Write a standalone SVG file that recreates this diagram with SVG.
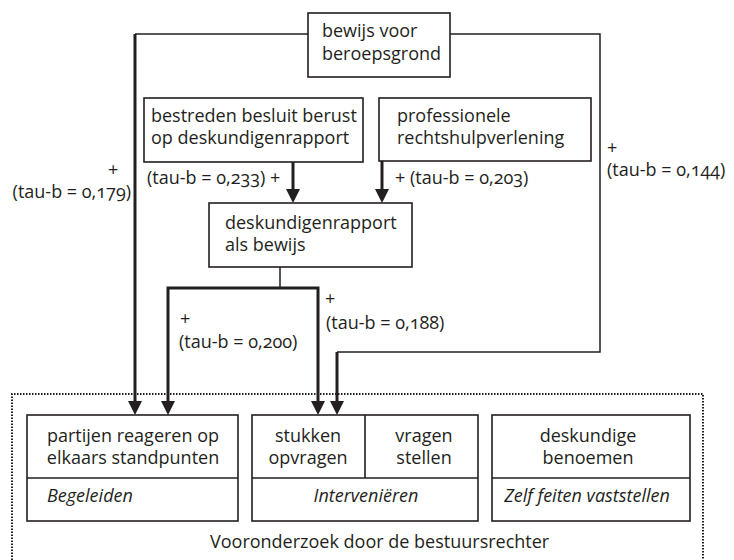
<svg xmlns="http://www.w3.org/2000/svg" width="734" height="560" viewBox="0 0 734 560">
<style>
text{font-family:"Open Sans","Liberation Sans",sans-serif;font-size:18px;fill:#231f20;font-variant-numeric:oldstyle-nums;font-feature-settings:"onum"}
.it{font-style:italic}
.c{text-anchor:middle}
.e{text-anchor:end}
.box{fill:#fff;stroke:#231f20;stroke-width:1.6}
.sep{stroke:#231f20;stroke-width:1.6;fill:none}
.thin{stroke:#231f20;stroke-width:1.5;fill:none}
.thick{stroke:#231f20;stroke-width:3;fill:none}
.dots{stroke:#231f20;stroke-width:2;fill:none;stroke-dasharray:1.5 1.5}
</style>
<defs>
<marker id="ah" viewBox="0 -7 14 14" refX="0" refY="0" markerWidth="14" markerHeight="14" markerUnits="userSpaceOnUse" orient="auto">
<path d="M0,-7 L14,0 L0,7 Z" fill="#231f20"/>
</marker>
</defs>

<g id="container">
<path class="dots" d="M12,575 V394 H703 V575"/>
<text x="210" y="548">Vooronderzoek door de bestuursrechter</text>
</g>

<g id="connectors">
<path class="thin" d="M308,34 H135"/>
<path class="thick" d="M135,34 V401" marker-end="url(#ah)"/>
<path class="thick" d="M293,162 V189" marker-end="url(#ah)"/>
<path class="thick" d="M382,161 V189" marker-end="url(#ah)"/>
<path class="thin" d="M280,267 V288"/>
<path class="thick" d="M280,288 H168 V401" marker-end="url(#ah)"/>
<path class="thick" d="M280,288 H318 V401" marker-end="url(#ah)"/>
<path class="thin" d="M450,34 H600 V352 H337"/>
<path class="thick" d="M337,352 V401" marker-end="url(#ah)"/>
<text x="108" y="176">+</text>
<text class="e" x="131" y="198">(tau-b = 0,179)</text>
<text x="147" y="184">(tau-b = 0,233) +</text>
<text x="395" y="184">+ (tau-b = 0,203)</text>
<text x="607" y="154">+</text>
<text x="607" y="176">(tau-b = 0,144)</text>
<text x="180" y="325">+</text>
<text x="179" y="348">(tau-b = 0,200)</text>
<text x="325" y="305">+</text>
<text x="326" y="329">(tau-b = 0,188)</text>
</g>

<g id="bewijs">
<rect class="box" x="308" y="13" width="142" height="64"/>
<text x="322" y="37">bewijs voor</text>
<text x="322" y="60">beroepsgrond</text>
</g>

<g id="bestreden">
<rect class="box" x="144" y="98" width="219" height="64"/>
<text x="151" y="122">bestreden besluit berust</text>
<text x="151" y="144">op deskundigenrapport</text>
</g>

<g id="professionele">
<rect class="box" x="379" y="98" width="212" height="63"/>
<text x="397" y="122">professionele</text>
<text x="397" y="144">rechtshulpverlening</text>
</g>

<g id="deskundigenrapport">
<rect class="box" x="209" y="203" width="203" height="64"/>
<text x="225" y="229">deskundigenrapport</text>
<text x="225" y="251">als bewijs</text>
</g>

<g id="begeleiden">
<rect class="box" x="27" y="415" width="211" height="106"/>
<path class="sep" d="M27,478 H238"/>
<text class="c" x="133" y="442">partijen reageren op</text>
<text class="c" x="133" y="464">elkaars standpunten</text>
<text class="it" x="47" y="502">Begeleiden</text>
</g>

<g id="interveniëren">
<rect class="box" x="252" y="415" width="226" height="106"/>
<path class="sep" d="M252,478 H478 M365,415 V478"/>
<text class="c" x="308" y="442">stukken</text>
<text class="c" x="308" y="464">opvragen</text>
<text class="c" x="424" y="442">vragen</text>
<text class="c" x="424" y="464">stellen</text>
<text class="it c" x="366" y="502">Interveniëren</text>
</g>

<g id="zelf">
<rect class="box" x="492" y="415" width="198" height="106"/>
<path class="sep" d="M492,478 H690"/>
<text class="c" x="588" y="442">deskundige</text>
<text class="c" x="588" y="464">benoemen</text>
<text class="it c" x="587" y="502">Zelf feiten vaststellen</text>
</g>
</svg>
